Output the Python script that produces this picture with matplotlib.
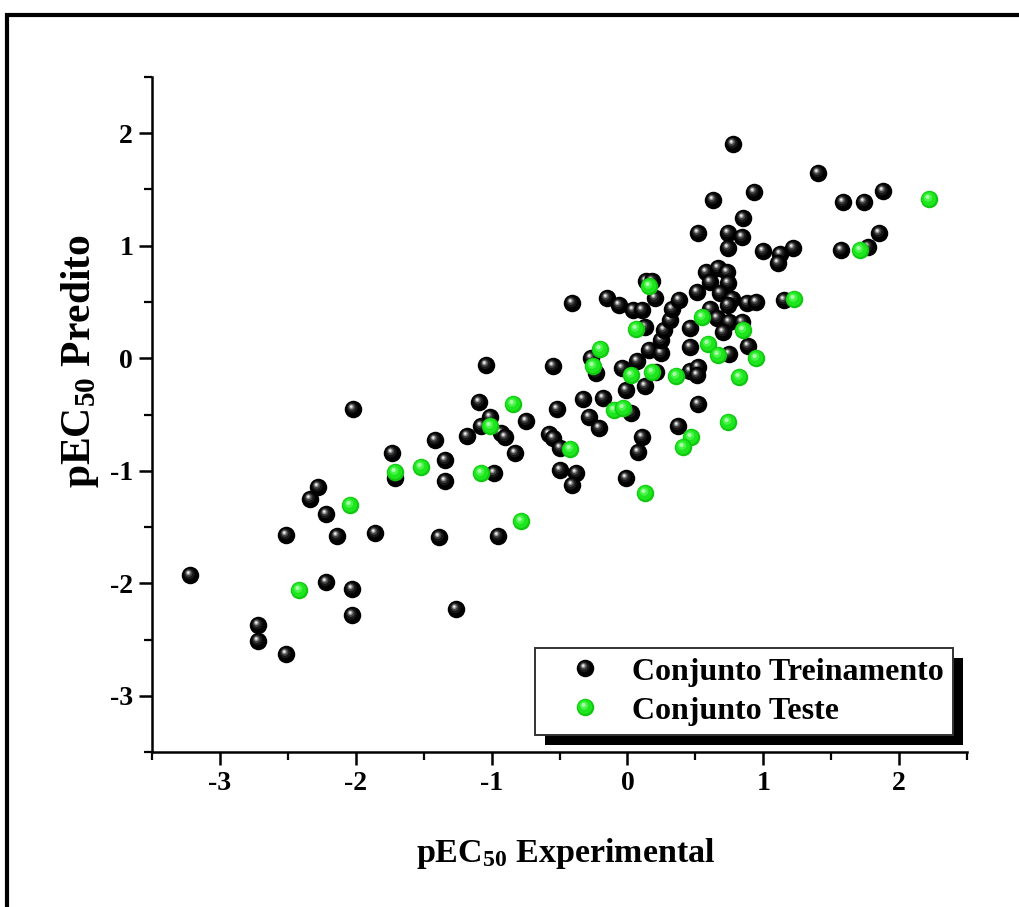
import numpy as np
import matplotlib
matplotlib.use('Agg')
import matplotlib.pyplot as plt
from matplotlib.path import Path
from matplotlib.patches import Rectangle
from matplotlib.lines import Line2D
from matplotlib.legend_handler import HandlerTuple
from matplotlib.ticker import MultipleLocator
from matplotlib.transforms import IdentityTransform

# ---------------- data ----------------
train_x = [-3.22, -2.72, -2.72, -2.51, -2.51, -2.34, -2.28, -2.22, -2.22, -2.14,
           -2.03, -2.03, -2.02, -1.86, -1.73, -1.71, -1.42, -1.39, -1.34, -1.34,
           -1.26, -1.18, -1.09, -1.04, -0.98, -0.95, -1.01, -1.08, -0.93, -0.90,
           -0.83, -0.75, -0.55, -0.52, -0.58, -0.55, -0.50, -0.50, -0.38, -0.41,
           -0.41, -0.33, -0.28, -0.21, -0.18, -0.27, -0.23, -0.15, -0.06, 0.04,
           0.11, 0.14, 0.18, 0.20, 0.13, -0.04, -0.01, 0.13, 0.03, 0.11,
           0.08, -0.01, 0.07, 0.16, 0.25, 0.25, 0.27, 0.31, 0.33, 0.38,
           0.21, 0.37, 0.46, 0.46, 0.46, 0.52, 0.51, 0.52, 0.51, 0.58,
           0.67, 0.73, 0.61, 0.74, 0.68, 0.77, 0.74, 0.88, 0.95, 0.61,
           0.66, 0.75, 0.84, 0.70, 0.75, 0.89, 0.78, 1.40, 0.93, 0.63,
           1.59, 1.74, 1.88, 0.85, 0.52, 0.74, 0.84, 0.74, 1.00, 1.22,
           1.12, 1.11, 1.85, 1.57, 1.77, 1.15]
train_y = [-1.93, -2.37, -2.51, -2.63, -1.57, -1.25, -1.14, -1.38, -1.99, -1.58,
           -2.05, -2.28, -0.45, -1.55, -0.84, -1.06, -0.73, -1.59, -0.90, -1.09,
           -2.23, -0.69, -0.39, -0.06, -1.02, -1.58, -0.52, -0.60, -0.66, -0.70,
           -0.84, -0.56, -0.07, -0.45, -0.67, -0.71, -0.80, -0.99, -1.02, -1.13,
           0.49, -0.36, -0.52, -0.62, -0.35, 0.00, -0.13, 0.54, 0.47, 0.43,
           0.43, 0.69, 0.69, 0.54, 0.28, -0.09, -0.28, -0.25, -0.49, -0.70,
           -0.83, -1.06, -0.02, 0.07, 0.05, 0.16, 0.25, 0.34, 0.44, 0.52,
           -0.12, -0.60, 0.27, 0.10, -0.11, -0.08, -0.15, -0.41, 0.59, 0.77,
           0.80, 0.77, 0.68, 0.67, 0.58, 0.53, 0.47, 0.49, 0.50, 0.44,
           0.36, 0.32, 0.32, 0.23, 0.04, 0.11, 1.90, 1.65, 1.48, 1.41,
           1.39, 1.39, 1.49, 1.25, 1.11, 1.11, 1.08, 0.98, 0.95, 0.98,
           0.93, 0.85, 1.11, 0.96, 0.99, 0.52]

test_x = [2.22, 1.71, 1.23, 0.16, 0.06, 0.55, 0.85, 0.59, 0.67, 0.95,
          0.82, 0.36, 0.18, 0.03, -0.20, -0.25, -0.10, -0.03, 0.74, 0.47,
          0.41, 0.13, -0.42, -0.78, -0.84, -1.01, -1.08, -1.52, -1.71, -2.04,
          -2.42]
test_y = [1.42, 0.96, 0.53, 0.64, 0.26, 0.37, 0.25, 0.13, 0.03, 0.00,
          -0.17, -0.16, -0.12, -0.15, 0.08, -0.07, -0.46, -0.44, -0.57, -0.70,
          -0.79, -1.20, -0.81, -1.45, -0.41, -0.60, -1.02, -0.97, -1.01, -1.30,
          -2.06]

labels = ["Conjunto Treinamento", "Conjunto Teste"]
x_label = r"pEC$_{\mathbf{50}}$ Experimental"
y_label = r"pEC$_{\mathbf{50}}$ Predito"

# ---------------- style ----------------
plt.rcParams['font.family'] = ['Liberation Serif', 'DejaVu Serif']
plt.rcParams['font.weight'] = 'bold'
plt.rcParams['mathtext.fontset'] = 'custom'
plt.rcParams['mathtext.rm'] = 'Liberation Serif:bold'
plt.rcParams['mathtext.bf'] = 'Liberation Serif:bold'
plt.rcParams['mathtext.it'] = 'Liberation Serif:bold'
plt.rcParams['axes.unicode_minus'] = False


def spot(cx, cy, r):
    """circle marker path shifted off-centre (anchor keeps unit scaling)."""
    c = Path.unit_circle()
    v = np.vstack([[[1.0, 0.0]], c.vertices * r + np.array([cx, cy])])
    codes = np.concatenate([[Path.MOVETO], c.codes])
    return Path(v, codes)


black_layers = [('o', '#000000'),
                (spot(-0.14, 0.18, 0.62), '#181818'),
                (spot(-0.20, 0.26, 0.42), '#454545'),
                (spot(-0.24, 0.31, 0.26), '#9a9a9a'),
                (spot(-0.26, 0.33, 0.13), '#f0f0f0')]
green_layers = [('o', '#10c810'),
                (spot(-0.06, 0.08, 0.82), '#1ee61e'),
                (spot(-0.16, 0.22, 0.48), '#48f448'),
                (spot(-0.22, 0.28, 0.24), '#a8ffa8')]

MS = 12.6  # marker diameter in points

fig = plt.figure(figsize=(10.19, 9.07), dpi=100)
ax = fig.add_axes([152 / 1019, 1 - 752 / 907, 815 / 1019, 675 / 907])


def draw_spheres(xs, ys, layers, z):
    for xi, yi in zip(xs, ys):
        for m, col in layers:
            ax.plot([xi], [yi], linestyle='none', marker=m, markersize=MS,
                    markerfacecolor=col, markeredgewidth=0, zorder=z)


draw_spheres(train_x, train_y, black_layers, 2)
draw_spheres(test_x, test_y, green_layers, 3)

ax.set_xlim(-3.5, 2.5)
ax.set_ylim(-3.5, 2.5)
ax.xaxis.set_major_locator(MultipleLocator(1))
ax.yaxis.set_major_locator(MultipleLocator(1))
ax.xaxis.set_minor_locator(MultipleLocator(0.5))
ax.yaxis.set_minor_locator(MultipleLocator(0.5))
for s in ('top', 'right'):
    ax.spines[s].set_visible(False)
for s in ('left', 'bottom'):
    ax.spines[s].set_linewidth(1.8)
ax.tick_params(which='major', direction='out', length=9.5, width=1.8,
               labelsize=20, pad=4)
ax.tick_params(which='minor', direction='out', length=6, width=1.6)
for lab in ax.get_xticklabels() + ax.get_yticklabels():
    lab.set_fontweight('bold')

ax.set_xlabel(x_label, fontsize=24.5, fontweight='bold')
ax.set_ylabel(y_label, fontsize=30, fontweight='bold')
ax.xaxis.set_label_coords(0.508, -0.124)
ax.yaxis.set_label_coords(-0.062, 0.58)

# legend
h_train = tuple(Line2D([], [], linestyle='none', marker=m, markersize=MS,
                       markerfacecolor=c, markeredgewidth=0) for m, c in black_layers)
h_test = tuple(Line2D([], [], linestyle='none', marker=m, markersize=MS,
                      markerfacecolor=c, markeredgewidth=0) for m, c in green_layers)
leg = ax.legend([h_train, h_test], labels,
                handler_map={tuple: HandlerTuple(ndivide=1, pad=0)},
                loc='lower left', bbox_to_anchor=(0.470, 0.025),
                borderaxespad=0, fancybox=False, framealpha=1,
                edgecolor='#333333', prop={'size': 23, 'weight': 'bold'},
                borderpad=0.3, handlelength=2.55, handletextpad=0.17,
                labelspacing=0.3, numpoints=1)
leg.get_frame().set_linewidth(1.4)
leg.set_zorder(10)

fig.canvas.draw()
bb = leg.get_window_extent()
shadow = Rectangle((bb.x0 + 10, bb.y0 - 10), bb.width, bb.height,
                   transform=IdentityTransform(), facecolor='black',
                   edgecolor='none', zorder=9, clip_on=False)
ax.add_artist(shadow)

# outer frame
frame = Rectangle((7 / 1019, -0.2), 1.2, 1 - 15 / 907 + 0.2,
                  transform=fig.transFigure, fill=False, edgecolor='black',
                  linewidth=3, clip_on=False)
fig.add_artist(frame)

fig.savefig('out.png', dpi=100)
